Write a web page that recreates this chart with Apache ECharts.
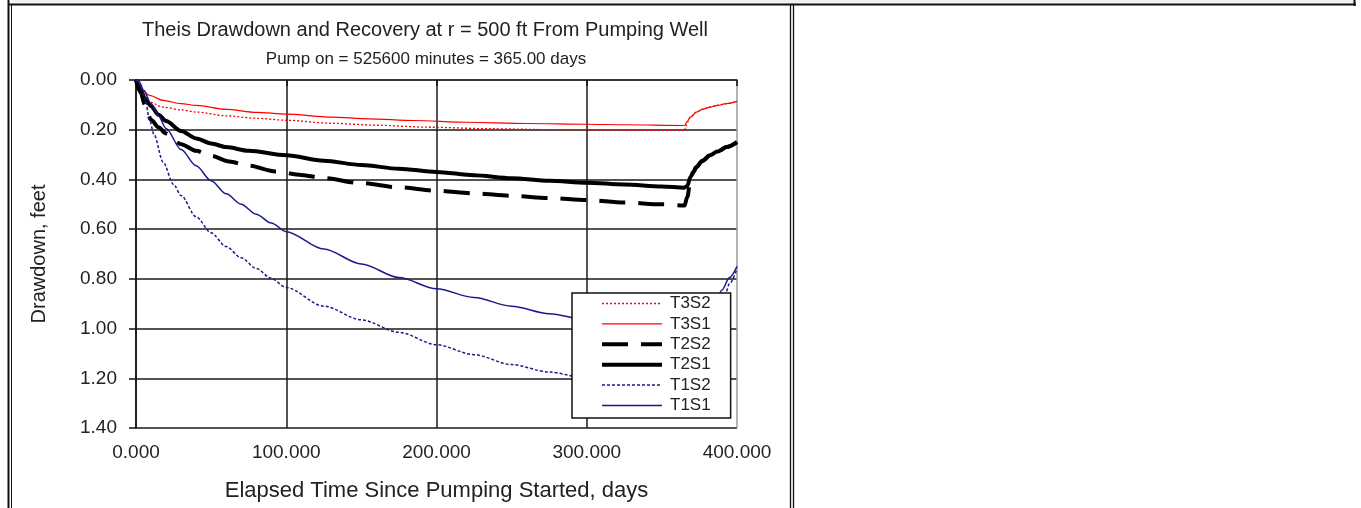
<!DOCTYPE html>
<html>
<head>
<meta charset="utf-8">
<title>Theis Drawdown and Recovery</title>
<script src="https://cdn.jsdelivr.net/npm/echarts@6.0.0/dist/echarts.min.js"></script>
<style>
  html, body { margin: 0; padding: 0; background: #fff; }
  #chart { width: 1361px; height: 508px; }
</style>
</head>
<body>
<div id="chart"></div>
<script>
// [elapsed days, drawdown ft]
const T3S2 = [[0,0],[2,0.03],[5,0.065],[9,0.089],[18,0.109],[30,0.12],[40,0.129],[60,0.144],[80,0.154],[100,0.162],[130,0.174],[160,0.182],[195,0.19],[235,0.196],[280,0.2],[320,0.202],[365,0.203],[367,0.17],[369,0.149],[373,0.129],[377,0.118],[382,0.109],[387,0.102],[393,0.095],[400,0.086]];
const T3S1 = [[0,0],[2,0.02],[5,0.045],[9,0.062],[18,0.082],[30,0.095],[40,0.102],[60,0.118],[80,0.13],[100,0.137],[130,0.149],[155,0.156],[185,0.163],[220,0.17],[260,0.175],[300,0.178],[325,0.18],[365,0.183],[367,0.165],[369,0.149],[373,0.129],[377,0.118],[382,0.109],[387,0.102],[393,0.095],[400,0.086]];
const T2S2 = [[0,0],[3,0.05],[6,0.1],[10,0.16],[15,0.19],[20,0.215],[30,0.258],[40,0.285],[50,0.305],[62,0.328],[75,0.345],[93,0.368],[110,0.382],[125,0.395],[150,0.415],[175,0.432],[200,0.445],[225,0.456],[250,0.466],[275,0.475],[300,0.483],[325,0.493],[350,0.5],[365,0.505],[367,0.47],[369,0.4],[371,0.37],[373,0.35],[377,0.325],[382,0.303],[387,0.288],[393,0.27],[400,0.25]];
const T2S1 = [[0,0],[3,0.04],[6,0.075],[10,0.105],[15,0.14],[20,0.165],[30,0.205],[40,0.235],[50,0.255],[60,0.27],[75,0.285],[100,0.303],[125,0.325],[150,0.342],[175,0.357],[200,0.37],[225,0.383],[250,0.395],[275,0.405],[300,0.413],[325,0.42],[350,0.428],[365,0.433],[367,0.425],[369,0.39],[371,0.37],[373,0.35],[377,0.325],[382,0.303],[387,0.288],[393,0.27],[400,0.25]];
const T1S2 = [[0,0],[2,0.01],[4,0.04],[6,0.075],[9,0.16],[12,0.22],[18,0.33],[25,0.42],[30,0.465],[40,0.55],[50,0.615],[60,0.67],[70,0.715],[80,0.758],[90,0.798],[100,0.835],[125,0.91],[150,0.965],[175,1.015],[200,1.065],[225,1.105],[250,1.145],[275,1.175],[300,1.2],[325,1.22],[350,1.24],[365,1.25],[370,1.245],[375,1.21],[380,1.14],[385,1.04],[390,0.92],[395,0.82],[400,0.76]];
const T1S1 = [[0,0],[2,0.005],[5,0.04],[10,0.095],[15,0.145],[20,0.195],[30,0.28],[40,0.345],[50,0.405],[60,0.458],[70,0.5],[80,0.54],[90,0.575],[100,0.61],[125,0.68],[150,0.74],[175,0.795],[200,0.84],[225,0.875],[250,0.91],[275,0.94],[300,0.965],[325,0.985],[350,1.005],[365,1.015],[370,1.01],[375,0.995],[380,0.955],[385,0.905],[390,0.845],[395,0.795],[400,0.75]];

const seriesNames = ["T3S2", "T3S1", "T2S2", "T2S1", "T1S2", "T1S1"];
const seriesData = [T3S2, T3S1, T2S2, T2S1, T1S2, T1S1];

const titleText = "Theis Drawdown and Recovery at r = 500 ft From Pumping Well";
const subText = "Pump on = 525600 minutes = 365.00 days";

const FONT = '"Liberation Sans", Arial, sans-serif';
const INK = "#222";

// line look per series
const styles = [
  { color: "#ff0000", width: 1.3, type: [2, 2] },
  { color: "#ff0000", width: 1.2, type: "solid" },
  { color: "#000", width: 4, type: [26, 13] },
  { color: "#000", width: 4, type: "solid" },
  { color: "#1a1a8c", width: 1.5, type: [3, 2] },
  { color: "#1a1a8c", width: 1.5, type: "solid" },
];

const chart = echarts.init(document.getElementById("chart"));

const frameLine = (x1, y1, x2, y2, w) => ({
  type: "line",
  shape: { x1, y1, x2, y2 },
  style: { stroke: "#111", lineWidth: w },
  silent: true,
});

const option = {
  animation: false,
  backgroundColor: "#fff",
  textStyle: { fontFamily: FONT },
  graphic: [
    { type: "rect", shape: { x: 12, y: 0, width: 1341, height: 3.5 }, style: { fill: "#f0f0f0" }, silent: true },
    frameLine(8, 4.5, 1356, 4.5, 2),
    frameLine(8.5, 0, 8.5, 508, 2),
    frameLine(11.5, 5, 11.5, 508, 1),
    frameLine(790.5, 5, 790.5, 508, 1.3),
    frameLine(793.5, 5, 793.5, 508, 1.3),
    frameLine(1354.5, 0, 1354.5, 6, 2),
    {
      type: "text", x: 425, y: 30, silent: true,
      style: { text: titleText, fontSize: 20, fontFamily: FONT, fill: INK, align: "center", verticalAlign: "middle" },
    },
    {
      type: "text", x: 426, y: 59, silent: true,
      style: { text: subText, fontSize: 17, fontFamily: FONT, fill: INK, align: "center", verticalAlign: "middle" },
    },
  ],
  legend: {
    orient: "vertical",
    left: 572,
    top: 293,
    itemWidth: 60,
    itemHeight: 14,
    itemGap: 3.4,
    padding: [2, 20, 4, 28],
    backgroundColor: "#fff",
    borderColor: "#111",
    borderWidth: 1.5,
    itemStyle: { color: "transparent", borderWidth: 0, opacity: 0 },
    lineStyle: { width: "inherit", type: "inherit" },
    textStyle: { fontSize: 17, color: INK, fontFamily: FONT, lineHeight: 17, padding: [0, 0, 0, 3] },
    data: seriesNames,
  },
  grid: { left: 136, top: 80, width: 601, height: 348 },
  xAxis: {
    type: "value",
    min: 0,
    max: 400,
    interval: 100,
    name: "Elapsed Time Since Pumping Started, days",
    nameLocation: "middle",
    nameGap: 52,
    nameTextStyle: { fontSize: 22, color: INK, fontFamily: FONT },
    axisLine: { lineStyle: { color: "#111", width: 1.5 } },
    axisTick: { show: true, inside: false, length: 6, lineStyle: { color: "#111", width: 1.5 } },
    axisLabel: { fontSize: 19, color: INK, margin: 15, formatter: (v) => v.toFixed(3) },
    splitLine: { show: true, lineStyle: { color: ["#1a1a1a", "#1a1a1a", "#1a1a1a", "#1a1a1a", "#9a9a9a"], width: 1.5 } },
  },
  yAxis: {
    type: "value",
    inverse: true,
    min: 0,
    max: 1.4,
    interval: 0.2,
    name: "Drawdown, feet",
    nameLocation: "middle",
    nameGap: 87,
    nameRotate: 90,
    nameTextStyle: { fontSize: 20, color: INK, fontFamily: FONT },
    axisLine: { show: true, lineStyle: { color: "#111", width: 1.5 } },
    axisTick: { show: true, inside: false, length: 7, lineStyle: { color: "#111", width: 1.5 } },
    axisLabel: { fontSize: 19, color: INK, margin: 19, formatter: (v) => v.toFixed(2) },
    splitLine: { show: true, lineStyle: { color: ["#9a9a9a", "#1a1a1a", "#1a1a1a", "#1a1a1a", "#1a1a1a", "#1a1a1a", "#1a1a1a", "#1a1a1a"], width: 1.5 } },
  },
  series: seriesNames.map((name, i) => ({
    name,
    type: "line",
    data: seriesData[i],
    symbol: "none",
    smooth: 0.3,
    smoothMonotone: "x",
    color: styles[i].color,
    lineStyle: { color: styles[i].color, width: styles[i].width, type: styles[i].type },
  })),
};

chart.setOption(option);
</script>
</body>
</html>
